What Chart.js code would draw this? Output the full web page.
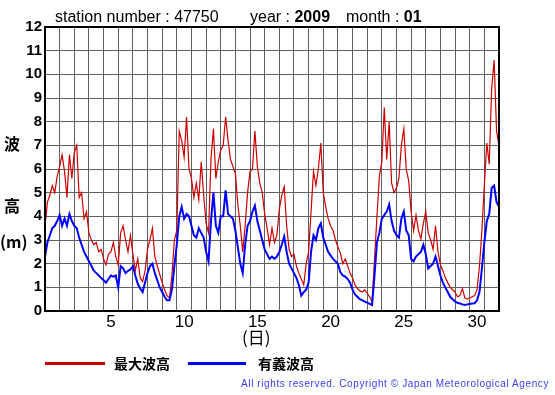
<!DOCTYPE html>
<html>
<head>
<meta charset="utf-8">
<script src="https://cdn.jsdelivr.net/npm/chart.js@4/dist/chart.umd.min.js"></script>
<style>
  body { margin: 0; background: #fff; }
  #wrap { position: relative; width: 555px; height: 395px; overflow: hidden; background: #fff; }
  #c { position: absolute; left: 0; top: 0; }
  .t { position: absolute; font-family: "Liberation Sans", Arial, sans-serif; font-size: 16px; line-height: 16px; color: #000; white-space: nowrap; }
  .t b { font-weight: bold; }
  .jp { position: absolute; font-family: "Noto Sans CJK JP", sans-serif; font-weight: bold; color: #000; white-space: nowrap; }
  .lg { position: absolute; height: 3px; }
  #copy { position: absolute; right: 6px; top: 378px; font-family: "Liberation Sans", Arial, sans-serif;
          font-size: 10px; line-height: 12px; letter-spacing: 0.6px; color: #3c3cf0; white-space: nowrap; }
</style>
</head>
<body>
<div id="wrap">
  <canvas id="c" width="555" height="395"></canvas>

  <!-- intestazione -->
  <div class="t" style="left:55px; top:9px;">station number : 47750</div>
  <div class="t" style="left:250px; top:9px;">year : <b>2009</b></div>
  <div class="t" style="left:346px; top:9px;">month : <b>01</b></div>

  <!-- etichetta asse Y -->
  <div class="jp" style="left:4px; top:134px; font-size:16px; line-height:18px;">波</div>
  <div class="jp" style="left:4px; top:196px; font-size:16px; line-height:18px;">高</div>
  <div class="jp" style="left:0px; top:232px; font-size:16px; line-height:18px;">(m)</div>

  <!-- etichetta asse X -->
  <div class="jp" style="left:242px; top:328px; font-size:17px; line-height:18px; font-weight:normal;">(日)</div>

  <!-- legenda -->
  <div class="lg" style="left:45px; top:362px; width:60px; background:#cc0000;"></div>
  <div class="jp" style="left:114px; top:355px; font-size:14px; line-height:16px;">最大波高</div>
  <div class="lg" style="left:188px; top:362px; width:58px; background:#0000ff;"></div>
  <div class="jp" style="left:258px; top:355px; font-size:14px; line-height:16px;">有義波高</div>

  <div id="copy">All rights reserved. Copyright © Japan Meteorological Agency</div>
</div>

<script>
"use strict";

// ============================================================
// DATI, un valore ogni 4 ore
// (6 valori per giorno, dal 1 gennaio 00h al 31 gennaio 24h)
// ============================================================
const PASSO_ORE = 4;
const GIORNI = 31;

// tacche dell'asse X (giorni etichettati)
const giorniEtichetta = [5, 10, 15, 20, 25, 30];

// tacche dell'asse Y
const yMin = 0;
const yMax = 12;
const yPasso = 1;

// 最大波高 (m)
const maxWave = [
    3.6, 4.6, 4.9, 5.3, 5.0, 5.7,
    6.1, 6.6, 5.9, 4.8, 6.6, 5.6,
    6.7, 7.0, 4.8, 5.0, 3.9, 4.2,
    3.3, 3.0, 2.8, 2.9, 2.5, 2.6,
    2.2, 1.95, 2.4, 2.5, 2.9, 2.3,
    1.95, 3.3, 3.6, 3.0, 2.5, 3.2,
    2.4, 1.7, 2.2, 1.4, 1.25, 1.7,
    2.6, 3.0, 3.5, 2.3, 1.9, 1.55,
    1.2, 0.9, 0.65, 0.55, 1.5, 3.0,
    3.4, 7.6, 7.2, 6.5, 8.2, 6.0,
    5.6, 4.8, 5.4, 4.7, 6.3, 4.9,
    3.7, 3.3, 6.4, 7.7, 5.6, 6.3,
    6.8, 7.0, 8.2, 7.2, 6.4, 6.1,
    5.8, 4.5, 3.6, 2.5, 3.6, 5.0,
    5.9, 6.0, 7.6, 6.1, 5.4, 5.0,
    4.1, 3.5, 2.8, 3.5, 2.9, 3.2,
    4.3, 4.9, 5.25, 3.6, 2.6, 2.3,
    2.4, 1.9, 1.6, 1.35, 1.1, 2.0,
    2.5, 4.2, 5.9, 5.3, 6.0, 7.1,
    5.0, 4.4, 3.9, 3.6, 3.4, 3.0,
    2.7, 2.45, 2.0, 2.2, 1.9, 1.6,
    1.4, 1.1, 0.95, 0.85, 0.8, 0.9,
    0.75, 0.6, 0.4, 2.2, 4.0, 5.7,
    6.3, 8.6, 6.4, 8.0, 5.4, 5.0,
    5.2, 5.6, 7.0, 7.7, 6.0, 5.5,
    4.2, 3.4, 4.05, 3.4, 3.05, 3.7,
    4.2, 3.3, 3.0, 2.6, 3.6, 2.5,
    1.95, 1.7, 1.4, 1.2, 1.0, 0.9,
    0.8, 0.6, 0.65, 0.95, 0.55, 0.5,
    0.55, 0.6, 0.65, 0.9, 1.9, 3.4,
    5.3, 7.1, 6.2, 9.4, 10.6, 7.6,
    7.0
];

// 有義波高 (m)
const sigWave = [
    2.3, 2.9, 3.2, 3.5, 3.6, 3.8,
    4.05, 3.6, 3.9, 3.6, 4.1, 3.8,
    3.6, 3.5, 3.1, 2.8, 2.5, 2.3,
    2.1, 1.9, 1.7, 1.6, 1.5, 1.4,
    1.3, 1.2, 1.35, 1.5, 1.45, 1.5,
    1.0, 1.9, 1.8, 1.6, 1.7, 1.75,
    1.9, 1.5, 1.15, 0.95, 0.8, 1.2,
    1.6, 1.9, 2.0, 1.6, 1.3, 1.0,
    0.8, 0.6, 0.45, 0.45, 0.9, 1.9,
    2.8, 4.0, 4.4, 3.9, 4.1, 4.0,
    3.6, 3.2, 3.1, 3.5, 3.3, 3.1,
    2.5, 2.1, 3.8, 5.0, 3.6, 3.3,
    4.0, 4.0, 5.1, 4.1, 4.0, 3.9,
    3.4, 2.7, 2.0, 1.6, 2.8, 3.6,
    3.8, 4.2, 4.45, 3.8, 3.4, 3.0,
    2.6, 2.4, 2.2, 2.3, 2.2, 2.3,
    2.5, 2.8, 3.15, 2.5, 2.0, 1.8,
    1.6, 1.4, 1.1, 0.65, 0.8, 0.9,
    1.2, 2.5, 3.2, 3.0, 3.5, 3.7,
    3.1, 2.8, 2.5, 2.35, 2.2, 2.1,
    2.0, 1.65, 1.5, 1.45, 1.35, 1.2,
    0.9, 0.7, 0.6, 0.5, 0.45, 0.4,
    0.35, 0.3, 0.25, 1.5, 2.9, 3.3,
    3.9, 4.05, 4.2, 4.5, 3.8, 3.4,
    3.2, 3.1, 3.9, 4.2, 3.4, 3.2,
    2.2, 2.1, 2.3, 2.4, 2.5, 2.8,
    2.4, 1.8, 1.9, 2.0, 2.3, 1.9,
    1.5, 1.2, 1.0, 0.8, 0.6, 0.5,
    0.4, 0.35, 0.32, 0.28, 0.25, 0.28,
    0.3, 0.32, 0.33, 0.45, 0.8, 1.8,
    2.9, 3.8, 4.1, 5.2, 5.3, 4.6,
    4.4
];

// ore corrispondenti a ogni valore
const ore = maxWave.map((v, i) => i * PASSO_ORE);

// coppie {x, y} per Chart.js
function punti(valori) {
    return valori.map((v, i) => ({ x: ore[i], y: v }));
}

// ============================================================
// Cornice nera attorno all'area del grafico
// ============================================================
const cornice = {
    id: "cornice",
    afterDatasetsDraw(chart) {
        const a = chart.chartArea;
        const ctx = chart.ctx;
        ctx.save();
        ctx.strokeStyle = "#000";
        ctx.lineWidth = 2;
        ctx.strokeRect(a.left, a.top, a.right - a.left, a.bottom - a.top);
        ctx.restore();
    }
};

// ============================================================
// Grafico
// ============================================================
new Chart(document.getElementById("c"), {
    type: "line",
    data: {
        datasets: [
            {
                label: "最大波高",
                data: punti(maxWave),
                borderColor: "#cc0000",
                borderWidth: 1.2,
                pointRadius: 0,
                tension: 0,
                order: 1
            },
            {
                label: "有義波高",
                data: punti(sigWave),
                borderColor: "#0000ff",
                borderWidth: 2,
                pointRadius: 0,
                tension: 0,
                order: 0
            }
        ]
    },
    options: {
        responsive: false,
        devicePixelRatio: 1,
        animation: false,
        events: [],
        layout: { padding: { left: 0, top: 27, right: 56, bottom: 54 } },
        plugins: {
            legend: { display: false },
            tooltip: { enabled: false },
            title: { display: false }
        },
        scales: {
            x: {
                type: "linear",
                min: 0,
                max: GIORNI * 24,
                afterFit: s => { s.height = 30; },
                // linee ad ogni cambio giorno + etichette al centro del giorno
                afterBuildTicks: s => {
                    const t = [];
                    for (let g = 0; g <= GIORNI; g++) t.push({ value: g * 24 });
                    giorniEtichetta.forEach(g => t.push({ value: (g - 0.5) * 24 }));
                    t.sort((a, b) => a.value - b.value);
                    s.ticks = t;
                },
                grid: {
                    color: c => (c.tick && c.tick.value % 24 === 0) ? "#606060" : "rgba(0,0,0,0)",
                    lineWidth: 1,
                    drawTicks: false
                },
                border: { display: false },
                ticks: {
                    autoSkip: false,
                    maxRotation: 0,
                    padding: 1,
                    color: "#000",
                    font: { family: "'Liberation Sans', Arial, sans-serif", size: 17 },
                    callback: v => (v % 24 === 0) ? "" : String(v / 24 + 0.5)
                }
            },
            y: {
                min: yMin,
                max: yMax,
                afterFit: s => { s.width = 45; },
                grid: { color: "#606060", lineWidth: 1, drawTicks: false },
                border: { display: false },
                ticks: {
                    stepSize: yPasso,
                    padding: 3,
                    color: "#000",
                    font: { family: "'Liberation Sans', Arial, sans-serif", size: 15, weight: "bold" }
                }
            }
        }
    },
    plugins: [cornice]
});
</script>
</body>
</html>
